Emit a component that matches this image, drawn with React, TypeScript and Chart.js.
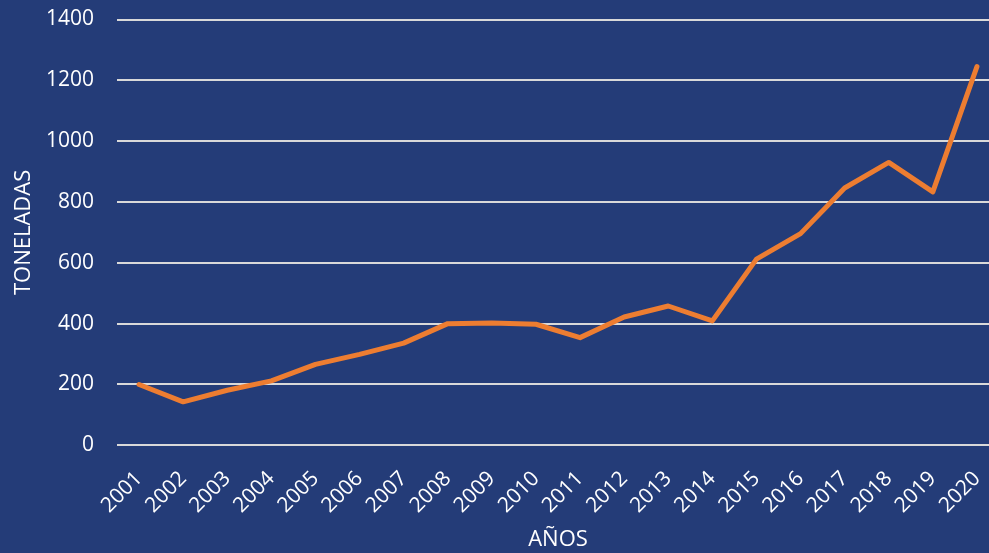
import React, { useEffect, useRef } from "react";
import { Chart, registerables } from "chart.js";

Chart.register(...registerables);

const years: string[] = [
  "2001", "2002", "2003", "2004", "2005", "2006", "2007", "2008", "2009", "2010",
  "2011", "2012", "2013", "2014", "2015", "2016", "2017", "2018", "2019", "2020",
];
const toneladas: number[] = [
  200, 143, 181, 212, 266, 299, 336, 400, 402, 398,
  354, 422, 458, 409, 612, 696, 846, 930, 833, 1245,
];
const yTitle = "TONELADAS";
const xTitle = "AÑOS";

const BG = "#243c78";
const FONT = "'Open Sans', sans-serif";

export default function App() {
  const ref = useRef<HTMLCanvasElement | null>(null);

  useEffect(() => {
    document.body.style.margin = "0";
    document.body.style.background = BG;
    if (!ref.current) return;
    const chart = new Chart(ref.current, {
      type: "line",
      data: {
        labels: years,
        datasets: [
          {
            data: toneladas,
            borderColor: "#ed7d31",
            backgroundColor: "#ed7d31",
            borderWidth: 5,
            pointRadius: 0,
            borderCapStyle: "round",
            borderJoinStyle: "round",
            tension: 0,
          },
        ],
      },
      options: {
        animation: false,
        responsive: false,
        devicePixelRatio: 1,
        layout: { padding: { top: 19.5, left: 0, right: 0, bottom: 0 } },
        plugins: { legend: { display: false }, tooltip: { enabled: false } },
        scales: {
          x: {
            offset: true,
            grid: { display: false, drawTicks: false },
            border: { display: false },
            ticks: {
              color: "#ffffff",
              font: { family: FONT, size: 21 },
              maxRotation: 45,
              minRotation: 45,
              padding: 21,
              autoSkip: false,
            },
            title: {
              display: true,
              text: xTitle,
              color: "#ffffff",
              font: { family: FONT, size: 22 },
              padding: { top: 0, bottom: 0 },
            },
            afterFit: (s: any) => {
              s.height = 107.7;
              s.paddingLeft = 0;
              s.paddingRight = 0;
            },
          },
          y: {
            min: 0,
            max: 1400,
            ticks: {
              stepSize: 200,
              color: "#ffffff",
              font: { family: FONT, size: 21 },
              padding: 23,
              callback: (v: any) => String(v),
            },
            grid: { color: "#d9d9d9", lineWidth: 2, drawTicks: false },
            border: { display: false },
            title: {
              display: true,
              text: yTitle,
              color: "#ffffff",
              font: { family: FONT, size: 22 },
              padding: { top: 11, bottom: 0 },
            },
            afterFit: (s: any) => {
              s.width = 117;
              s.paddingTop = 0;
              s.paddingBottom = 0;
            },
          },
        },
      },
    });
    return () => chart.destroy();
  }, []);

  return (
    <div
      style={{
        width: 989,
        height: 553,
        overflow: "hidden",
        background: BG,
        position: "relative",
      }}
    >
      <canvas ref={ref} width={999} height={553} style={{ display: "block" }} />
    </div>
  );
}
